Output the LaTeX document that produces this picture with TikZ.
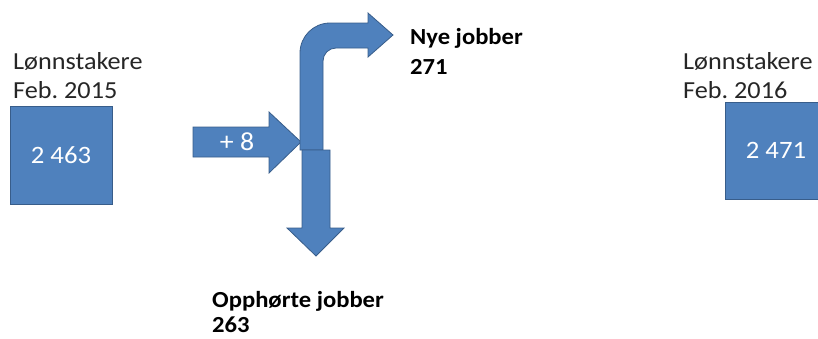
\documentclass[tikz,border=0pt]{standalone}
\usepackage{fontspec}
\setmainfont{Carlito}[FakeStretch=1.07]
\definecolor{fillblue}{HTML}{4F81BD}
\definecolor{edgeblue}{HTML}{385D8A}
\definecolor{labelgray}{HTML}{262626}
\frenchspacing
\begin{document}
\begin{tikzpicture}[x=1pt,y=-1pt,
  blueshape/.style={fill=fillblue,draw=edgeblue,line width=0.8pt,line join=miter},
  numbox/.style={blueshape,rectangle,inner sep=0pt,text=white,font=\fontsize{25}{28}\selectfont},
  lbl/.style={anchor=base west,inner sep=0pt,text=labelgray,font=\fontsize{24.5}{28}\selectfont},
  blbl/.style={anchor=base west,inner sep=0pt,text=black,font=\bfseries\fontsize{23}{28}\selectfont},
  wtext/.style={inner sep=0pt,text=white,font=\fontsize{26}{28}\selectfont}]
\useasboundingbox (0,0) rectangle (818,338);
% boxes
\node[numbox,minimum width=102pt,minimum height=98pt] (b1) at (61,155) {2 463};
\node[numbox,minimum width=102pt,minimum height=97pt] (b2) at (776,150.5) {2 471};
\node[lbl] (l1a) at (13,69) {Lønnstakere};
\node[lbl] (l1b) at (13,98) {Feb. 2015};
\node[lbl] (l2a) at (683,69) {Lønnstakere};
\node[lbl] (l2b) at (683,98) {Feb. 2016};
% right arrow
\draw[blueshape] (193,127) -- (269,127) -- (269,112) -- (301,142) -- (269,173) -- (269,157) -- (193,157) -- cycle;
\node[wtext] (plus) at (237,142) {+ 8};
% bent arrow
\draw[blueshape] (300,150) -- (300,53) arc[start angle=180,end angle=270,radius=30] -- (368,23) -- (368,13) -- (393,35) -- (368,57) -- (368,48) -- (336,48) arc[start angle=270,end angle=180,radius=13] -- (323,150) -- cycle;
% down arrow
\draw[blueshape] (302,150) -- (330,150) -- (330,228) -- (344,228) -- (316,256) -- (287,228) -- (302,228) -- cycle;
% labels
\node[blbl] (ny1) at (410,44) {Nye jobber};
\node[blbl] (ny2) at (410,74) {271};
\node[blbl] (op1) at (212,307) {Opphørte jobber};
\node[blbl] (op2) at (212,332) {263};
\end{tikzpicture}
\end{document}
